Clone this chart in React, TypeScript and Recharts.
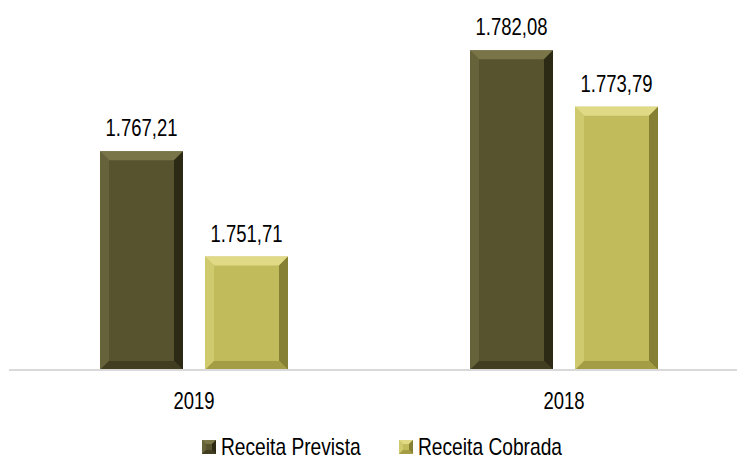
import React from 'react';
import { BarChart, Bar, XAxis, YAxis, Legend, LabelList } from 'recharts';

const categories = ['2019', '2018'];
const receitaPrevista = [1767.21, 1782.08];
const receitaCobrada = [1751.71, 1773.79];

const data = categories.map((ano, i) => ({
    ano,
    prevista: receitaPrevista[i],
    cobrada: receitaCobrada[i]
}));

const font = '"Liberation Sans", Arial, sans-serif';
// the original uses a narrow font; squeeze Arial horizontally to match
const SQUEEZE = 0.77;

const formatBR = (v: number) => {
    const [int, dec] = v.toFixed(2).split('.');
    return int.replace(/\B(?=(\d{3})+(?!\d))/g, '.') + ',' + dec;
};

type Palette = { mid: string; top: string; left: string; right: string; bottom: string };

const darkPal: Palette = { mid: '#57532f', top: '#7a7549', left: '#66623a', right: '#2c2a14', bottom: '#403d20' };
const lightPal: Palette = { mid: '#c2bb5b', top: '#e0da86', left: '#d0ca6e', right: '#858034', bottom: '#a49d45' };

const bevel = (pal: Palette) => (props: any) => {
    const { x, y, width: w, height: h } = props;
    if (!w || !h) return null;
    const b = Math.min(9, w / 4, h / 4);
    const pts = (arr: number[][]) => arr.map(p => p.join(',')).join(' ');
    return (
        <g>
            <rect x={x} y={y} width={w} height={h} fill={pal.mid} />
            <polygon points={pts([[x, y], [x + w, y], [x + w - b, y + b], [x + b, y + b]])} fill={pal.top} />
            <polygon points={pts([[x, y], [x + b, y + b], [x + b, y + h - b], [x, y + h]])} fill={pal.left} />
            <polygon points={pts([[x + w, y], [x + w, y + h], [x + w - b, y + h - b], [x + w - b, y + b]])} fill={pal.right} />
            <polygon points={pts([[x, y + h], [x + b, y + h - b], [x + w - b, y + h - b], [x + w, y + h]])} fill={pal.bottom} />
        </g>
    );
};

const NarrowText = ({ x, y, children, anchor = 'middle', scale = SQUEEZE }: any) => (
    <text
        transform={`translate(${x},${y}) scale(${scale},1)`}
        textAnchor={anchor}
        fontFamily={font}
        fontSize={24}
        fill="#000"
    >
        {children}
    </text>
);

const ValueLabel = (props: any) => {
    const { x, y, width, value } = props;
    return <NarrowText x={x + width / 2} y={y - 15}>{formatBR(Number(value))}</NarrowText>;
};

const YearTick = (props: any) => {
    const { x, y, payload } = props;
    return <NarrowText x={x} y={y + 17}>{payload.value}</NarrowText>;
};

const LegendIcon = ({ x, pal }: { x: number; pal: Palette }) => (
    <g transform={`translate(${x},8)`}>
        <rect x={0} y={0} width={14} height={14} fill={pal.mid} />
        <polygon points="0,0 14,0 10,4 4,4" fill={pal.top} />
        <polygon points="0,0 4,4 4,10 0,14" fill={pal.left} />
        <polygon points="14,0 14,14 10,10 10,4" fill={pal.right} />
        <polygon points="0,14 4,10 10,10 14,14" fill={pal.bottom} />
    </g>
);

const legendOrder = ['prevista', 'cobrada'];
const legendX: Record<string, number> = { prevista: 202, cobrada: 399 };
const legendPal: Record<string, Palette> = { prevista: darkPal, cobrada: lightPal };

const renderLegend = (props: any) => {
    const items = [...(props.payload || [])].sort(
        (a: any, b: any) => legendOrder.indexOf(a.dataKey) - legendOrder.indexOf(b.dataKey)
    );
    return (
        <svg width={737} height={30} style={{ display: 'block', overflow: 'visible' }}>
            {items.map((item: any) => (
                <g key={item.dataKey}>
                    <LegendIcon x={legendX[item.dataKey]} pal={legendPal[item.dataKey]} />
                    <NarrowText x={legendX[item.dataKey] + 19} y={23} anchor="start" scale={0.8}>{item.value}</NarrowText>
                </g>
            ))}
        </svg>
    );
};

export default function App() {
    return (
        <div style={{ position: 'absolute', left: 0, top: 0, width: 737, height: 460, overflow: 'hidden', background: '#fff' }}>
            <BarChart
                width={750}
                height={460}
                data={data}
                margin={{ top: 0, right: 1, left: 9, bottom: 30 }}
                barSize={83}
                barGap={22}
            >
                <XAxis
                    dataKey="ano"
                    axisLine={{ stroke: '#d9d9d9', strokeWidth: 2 }}
                    tickLine={false}
                    tickMargin={16}
                    tick={<YearTick />}
                />
                <YAxis hide domain={[1735, 1789.5]} allowDataOverflow />
                <Legend
                    verticalAlign="bottom"
                    content={renderLegend}
                    wrapperStyle={{ top: 432, bottom: 'auto', left: 0, width: 737 }}
                />
                <Bar dataKey="prevista" name="Receita Prevista" fill={darkPal.mid} shape={bevel(darkPal)} isAnimationActive={false}>
                    <LabelList dataKey="prevista" content={<ValueLabel />} />
                </Bar>
                <Bar dataKey="cobrada" name="Receita Cobrada" fill={lightPal.mid} shape={bevel(lightPal)} isAnimationActive={false}>
                    <LabelList dataKey="cobrada" content={<ValueLabel />} />
                </Bar>
            </BarChart>
        </div>
    );
}
